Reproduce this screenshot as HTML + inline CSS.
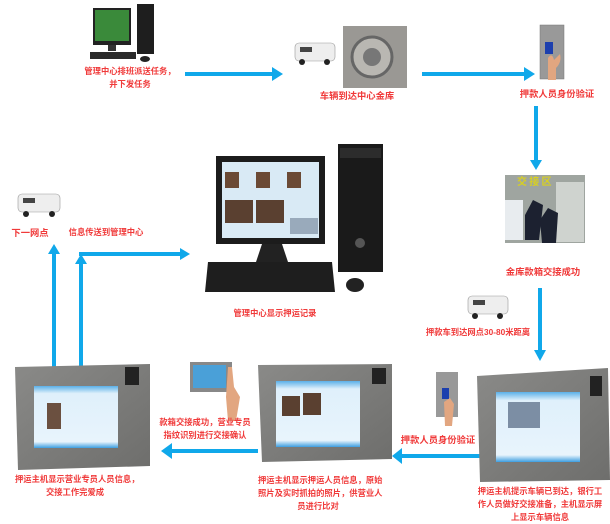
<!DOCTYPE html>
<html><head><meta charset="utf-8"><style>
body{margin:0;background:#fff;width:610px;height:524px;overflow:hidden;position:relative;font-family:"Liberation Sans","Noto Sans CJK SC",sans-serif}
.t{position:absolute;color:#f03a3a;font-size:8.3px;line-height:13px;text-align:center;white-space:nowrap;font-weight:bold}
.b{font-size:9.3px}
svg{position:absolute;left:0;top:0}
</style></head><body>
<svg width="610" height="524">
<defs>
<linearGradient id="steel" x1="0" y1="0" x2="1" y2="1"><stop offset="0" stop-color="#8a8a88"/><stop offset="1" stop-color="#6e6e6c"/></linearGradient>
<linearGradient id="scr" x1="0" y1="0" x2="0" y2="1"><stop offset="0" stop-color="#5bb0e8"/><stop offset=".12" stop-color="#dff0fb"/><stop offset=".9" stop-color="#e8f4fc"/><stop offset="1" stop-color="#3d9ee0"/></linearGradient>
</defs>
<g fill="#10a8ea" stroke="none">
<rect x="185" y="72" width="89" height="4"/><polygon points="272,67 283,74 272,81"/>
<rect x="422" y="72" width="104" height="4"/><polygon points="524,67 535,74 524,81"/>
<rect x="534" y="106" width="4" height="56"/><polygon points="530,160 536,170 542,160"/>
<rect x="538" y="288" width="4" height="64"/><polygon points="534,350 540,361 546,350"/>
<rect x="400" y="454" width="90" height="4"/><polygon points="402,448 392,456 402,464"/>
<rect x="170" y="449" width="88" height="4"/><polygon points="172,443 161,451 172,459"/>
<rect x="52" y="252" width="4" height="116"/><polygon points="48,254 54,244 60,254"/>
<rect x="79" y="262" width="4" height="106"/><polygon points="75,264 81,254 87,264"/>
<rect x="79" y="252" width="102" height="4"/><polygon points="180,248 190,254 180,260"/>
</g>
<rect x="93" y="8" width="38" height="37" fill="#222"/><rect x="95" y="10" width="34" height="31" fill="#3a8a3a"/>
<rect x="108" y="45" width="8" height="6" fill="#333"/><rect x="90" y="52" width="46" height="7" fill="#2a2a2a"/>
<rect x="137" y="4" width="17" height="50" fill="#1e1e1e"/><ellipse cx="145" cy="59" rx="5" ry="3" fill="#222"/>
<rect x="295" y="43" width="40" height="18" rx="4" fill="#eee" stroke="#999" stroke-width=".6"/><rect x="300" y="47" width="12" height="5" fill="#444"/><circle cx="302" cy="62" r="3" fill="#222"/><circle cx="327" cy="62" r="3" fill="#222"/>
<rect x="343" y="26" width="64" height="62" fill="#9a9894"/><circle cx="372" cy="57" r="20" fill="#b9b7b2" stroke="#666" stroke-width="3"/><circle cx="372" cy="57" r="9" fill="#777"/>
<rect x="540" y="25" width="24" height="54" fill="#999" stroke="#777" stroke-width=".5"/><rect x="545" y="42" width="8" height="12" fill="#1c3fae"/><path d="M548 58 q4 -6 6 2 l6 -6 q2 8 -4 14 l0 12 h-8z" fill="#e2a680"/>
<rect x="505" y="175" width="80" height="68" fill="#9fa5a0"/><rect x="505" y="200" width="18" height="40" fill="#e8ecef"/><rect x="556" y="182" width="28" height="60" fill="#cfd3cf"/><path d="M525 215 l8 -15 l10 5 l-4 35 h-14z" fill="#1c2130"/><path d="M540 220 l8 -12 l10 5 l-2 30 h-14z" fill="#1c2130"/>
<text x="517" y="185" font-size="10" fill="#d8d020" font-weight="bold" font-family="Noto Sans CJK SC">交 接 区</text>
<rect x="468" y="296" width="40" height="18" rx="4" fill="#eee" stroke="#999" stroke-width=".6"/><rect x="473" y="300" width="12" height="5" fill="#444"/><circle cx="475" cy="316" r="3" fill="#222"/><circle cx="500" cy="316" r="3" fill="#222"/>
<rect x="18" y="194" width="42" height="18" rx="4" fill="#eee" stroke="#999" stroke-width=".6"/><rect x="23" y="198" width="12" height="5" fill="#444"/><circle cx="26" cy="214" r="3" fill="#222"/><circle cx="52" cy="214" r="3" fill="#222"/>
<rect x="216" y="156" width="109" height="88" fill="#1c1c1c"/><rect x="222" y="162" width="97" height="76" fill="#d9eaf5"/>
<rect x="225" y="172" width="14" height="16" fill="#6b4a35"/><rect x="256" y="172" width="14" height="16" fill="#6b4a35"/><rect x="287" y="172" width="14" height="16" fill="#6b4a35"/>
<rect x="225" y="200" width="28" height="23" fill="#5a4030"/><rect x="256" y="200" width="28" height="23" fill="#5a4030"/><rect x="290" y="218" width="28" height="16" fill="#9ab"/>
<polygon points="262,244 282,244 288,262 256,262" fill="#222"/>
<rect x="338" y="144" width="45" height="128" fill="#1a1a1a"/><rect x="340" y="148" width="41" height="10" fill="#2c2c2c"/><circle cx="360" cy="243" r="5" fill="#555"/>
<polygon points="208,262 332,262 335,292 205,292" fill="#1e1e1e"/><ellipse cx="355" cy="285" rx="9" ry="7" fill="#222"/>
<polygon points="15,367 150,364 150,466 18,470" fill="url(#steel)"/><rect x="34" y="386" width="84" height="62" fill="url(#scr)"/><rect x="125" y="367" width="14" height="18" fill="#222"/><rect x="47" y="403" width="14" height="26" fill="#6b5040"/>
<polygon points="258,365 392,364 392,459 262,462" fill="url(#steel)"/><rect x="276" y="381" width="84" height="66" fill="url(#scr)"/><rect x="372" y="368" width="14" height="16" fill="#222"/><rect x="282" y="396" width="18" height="20" fill="#5a4030"/><rect x="303" y="393" width="18" height="22" fill="#5a4030"/>
<polygon points="477,376 608,368 610,480 480,482" fill="url(#steel)"/><rect x="496" y="392" width="84" height="70" fill="url(#scr)"/><rect x="590" y="376" width="12" height="20" fill="#222"/><rect x="508" y="402" width="32" height="26" fill="#7c8ea4"/>
<rect x="190" y="362" width="42" height="30" fill="#888"/><rect x="193" y="365" width="33" height="23" fill="#4aa0d8"/><path d="M228 367 l4 0 l2 20 l6 10 l-4 24 l-8 0 l-2 -24z" fill="#e2a680"/>
<rect x="436" y="372" width="22" height="45" fill="#999"/><rect x="442" y="388" width="7" height="11" fill="#1c3fae"/><path d="M444 402 l6 -4 l4 6 l-2 22 h-7z" fill="#e2a680"/>
</svg>
<div class="t" style="left:80px;top:65px;width:100px">管理中心排班派送任务，<br>并下发任务</div>
<div class="t b" style="left:307px;top:90px;width:100px">车辆到达中心金库</div>
<div class="t b" style="left:507px;top:88px;width:100px">押款人员身份验证</div>
<div class="t b" style="left:493px;top:266px;width:100px">金库款箱交接成功</div>
<div class="t" style="left:418px;top:326px;width:120px">押款车到达网点30-80米距离</div>
<div class="t b" style="left:5px;top:227px;width:50px">下一网点</div>
<div class="t" style="left:66px;top:226px;width:80px">信息传送到管理中心</div>
<div class="t" style="left:225px;top:307px;width:100px">管理中心显示押运记录</div>
<div class="t" style="left:150px;top:416px;width:110px">款箱交接成功，营业专员<br>指纹识别进行交接确认</div>
<div class="t b" style="left:388px;top:434px;width:100px">押款人员身份验证</div>
<div class="t" style="left:15px;top:473px;width:120px">押运主机显示营业专员人员信息，<br>交接工作完爱成</div>
<div class="t" style="left:258px;top:474px;width:120px">押运主机显示押运人员信息，原始<br>照片及实时抓拍的照片，供营业人<br>员进行比对</div>
<div class="t" style="left:476px;top:485px;width:128px">押运主机提示车辆已到达，银行工<br>作人员做好交接准备，主机显示屏<br>上显示车辆信息</div>
</body></html>
